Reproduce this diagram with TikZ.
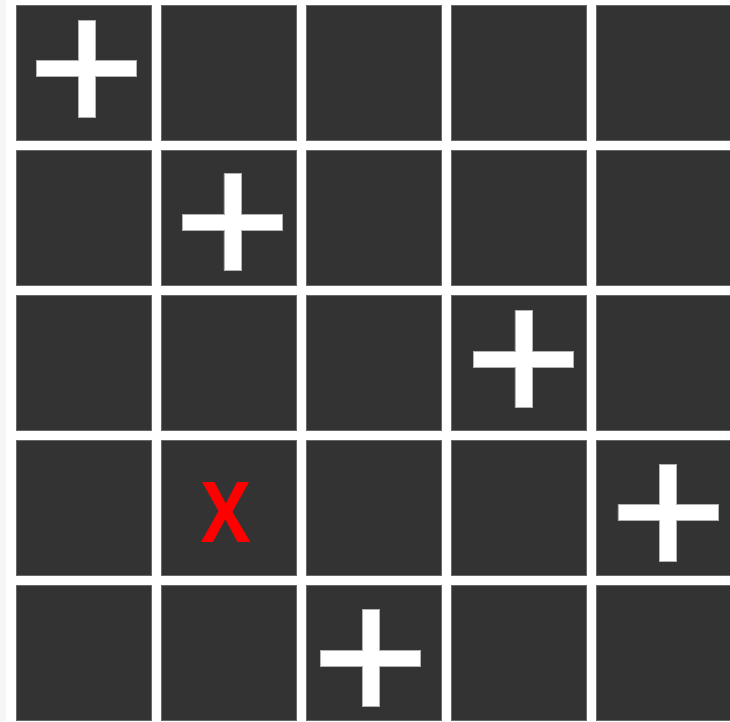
\documentclass[tikz,border=0pt]{standalone}
\usepackage{fontspec}
\newfontfamily\xfont{Open Sans}[UprightFont=* Bold]
\begin{document}
\begin{tikzpicture}[x=1pt,y=-1pt,
  cell/.style={fill=cellgray,draw=gray!70!cellgray,line width=0.6pt,minimum width=135pt,minimum height=135pt,inner sep=0pt,outer sep=0pt,anchor=north west},
  plusshape/.style={fill=white,draw=gray!60,line width=0.6pt},
  cross/.style={text=red,font=\xfont\fontsize{84}{84}\selectfont,inner sep=0pt,xscale=0.88}]
\definecolor{cellgray}{HTML}{333333}
\definecolor{stripgray}{HTML}{F5F5F5}
\useasboundingbox (0,0) rectangle (730,721);
\fill[white] (0,0) rectangle (730,721);
\fill[stripgray] (0,0) rectangle (6,721);
\foreach \r in {0,...,4}{
  \foreach \c in {0,...,4}{
    \node[cell] (c\r\c) at ({16.5+145*\c},{5+145*\r}) {};
  }
}
\foreach \cx/\cy in {86.7/68.5, 232.3/222, 523.3/359.2, 667.8/512.5, 370.7/658.2}{
  \draw[plusshape] ({\cx-8.5},{\cy-48.5}) -- ({\cx+8.5},{\cy-48.5}) -- ({\cx+8.5},{\cy-8})
    -- ({\cx+50},{\cy-8}) -- ({\cx+50},{\cy+8}) -- ({\cx+8.5},{\cy+8})
    -- ({\cx+8.5},{\cy+48.5}) -- ({\cx-8.5},{\cy+48.5}) -- ({\cx-8.5},{\cy+8})
    -- ({\cx-50},{\cy+8}) -- ({\cx-50},{\cy-8}) -- ({\cx-8.5},{\cy-8}) -- cycle;
}
\node[cross] (x) at (226,512.7) {X};
\end{tikzpicture}
\end{document}
